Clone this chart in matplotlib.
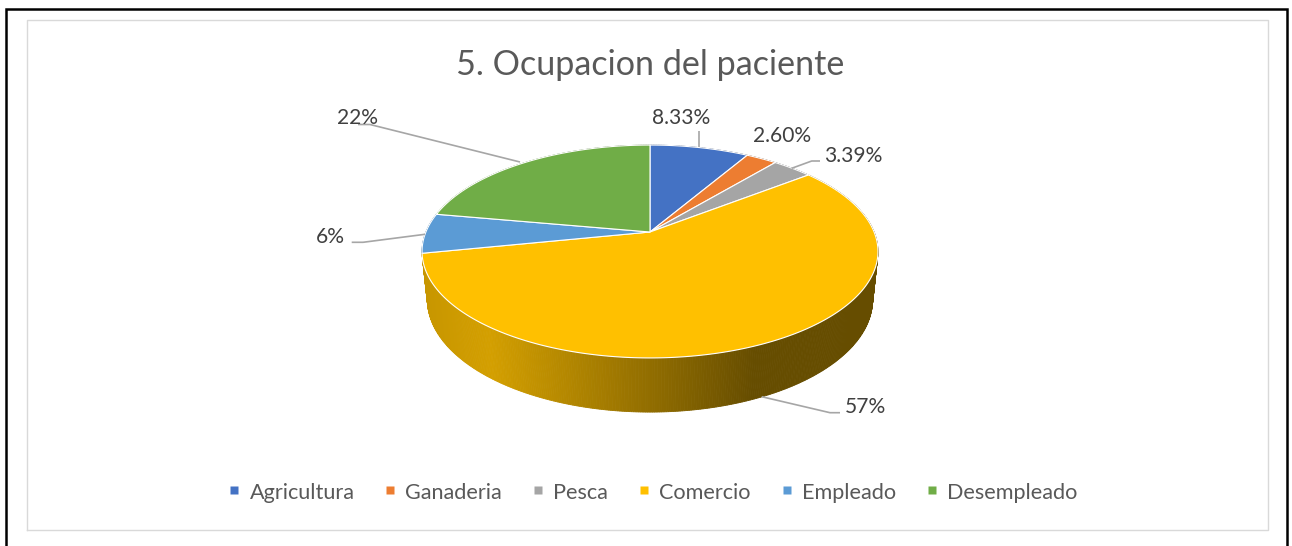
import numpy as np
import matplotlib
matplotlib.use("Agg")
import matplotlib.pyplot as plt
from matplotlib.patches import Polygon
from matplotlib.lines import Line2D
from matplotlib.colors import to_rgb

# ---------------- data ----------------
categories = ["Agricultura", "Ganaderia", "Pesca", "Comercio", "Empleado", "Desempleado"]
values = [8.33, 2.60, 3.39, 57, 6, 22]
value_labels = ["8.33%", "2.60%", "3.39%", "57%", "6%", "22%"]
colors = ["#4472C4", "#ED7D31", "#A5A5A5", "#FFC000", "#5B9BD5", "#70AD47"]
title = "5. Ocupacion del paciente"

# ---------------- layout (pixels) ----------------
W, H = 1292, 546
FONT = "Lato"
TEXT_COLOR = "#595959"
LABEL_COLOR = "#404040"
# label text anchor (x, baseline y, ha)
label_anchor = [(652, 124, "left"), (753, 141.7, "left"), (824, 161.7, "left"),
                (845, 412.7, "left"), (345, 242.7, "right"), (378, 124.3, "right")]
# leader lines (None when Excel draws none)
leaders = [[(699, 131), (699, 147)],
           None,
           [(820, 161), (811.7, 161), (791.7, 168.3)],
           [(840, 412.7), (830, 412.7), (761.7, 396.7)],
           [(351.7, 242.3), (363, 242.3), (425, 234.3)],
           [(358, 124.5), (370, 124.5), (520, 162)]]

fig = plt.figure(figsize=(W / 100, H / 100), dpi=100)
ax = fig.add_axes([0, 0, 1, 1])
ax.set_xlim(0, W)
ax.set_ylim(H, 0)
ax.axis("off")
renderer = fig.canvas.get_renderer()


def fit_size(texts, target, base=20.0):
    tot = 0.0
    for t in texts:
        tt = ax.text(0, 0, t, fontsize=base, family=FONT)
        tot += tt.get_window_extent(renderer).width
        tt.remove()
    return base * target / tot


# ---------------- borders ----------------
ax.plot([5.5, 5.5, 1287.3, 1287.3], [560, 8.5, 8.5, 560], color="black", lw=1.8,
        solid_joinstyle="miter", zorder=1)
ax.plot([26.5, 26.5, 1267.5, 1267.5, 26.5], [530, 19.5, 19.5, 530, 530],
        color="#D9D9D9", lw=1.0, zorder=1)

# ---------------- 3D pie projection ----------------
CX, CY = 650, 232
S = 224.1
SIN = 0.459
COS = np.sqrt(1 - SIN ** 2)
D = 4.85
HGT = 0.243


def proj(theta, r=1.0, y=0.0):
    X = r * np.sin(theta)
    Z = r * np.cos(theta)
    den = 1 + (Z * COS - y * SIN) / D
    u = S * X / den
    v = S * (y * COS + Z * SIN) / den
    return CX + u, CY - v


vals = np.array(values, dtype=float)
frac = vals / vals.sum()
edges = np.concatenate([[0], np.cumsum(frac)]) * 2 * np.pi


def slice_of(theta):
    return int(np.clip(np.searchsorted(edges, theta, side="right") - 1, 0, len(vals) - 1))


# side wall
step = np.deg2rad(0.5)
thetas = np.arange(0, 2 * np.pi + 1e-9, step)
quads = []
for a, b in zip(thetas[:-1], thetas[1:]):
    m = 0.5 * (a + b)
    quads.append((np.cos(m), a, b, m))
quads.sort(key=lambda q: -q[0])
for _, a, b, m in quads:
    idx = slice_of(m)
    ta = proj(a)
    tb = proj(b)
    bb = proj(b, y=-HGT)
    ba = proj(a, y=-HGT)
    xm = proj(m)[0]
    f = np.interp(xm, [420, 490, 755, 900], [0.78, 0.83, 0.40, 0.40])
    c = tuple(np.array(to_rgb(colors[idx])) * f)
    ax.add_patch(Polygon([ta, tb, bb, ba], closed=True, facecolor=c, edgecolor=c,
                         lw=0.6, zorder=2))

# top faces
for i in range(len(vals)):
    th = np.linspace(edges[i], edges[i + 1], max(3, int(np.degrees(edges[i + 1] - edges[i]) * 2)))
    xs, ys = proj(th)
    pts = [(CX, CY)] + list(zip(xs, ys))
    ax.add_patch(Polygon(pts, closed=True, facecolor=colors[i], edgecolor="white",
                         lw=0.8, joinstyle="round", zorder=3))

# ---------------- data labels ----------------
lab_size = fit_size(value_labels[:3], 175)
for i, txt in enumerate(value_labels):
    x, y, ha = label_anchor[i]
    ax.text(x, y, txt, fontsize=lab_size, family=FONT, color=LABEL_COLOR,
            ha=ha, va="baseline", zorder=5)
    if leaders[i] is not None:
        lx, ly = zip(*leaders[i])
        ax.plot(lx, ly, color="#A6A6A6", lw=1.2, zorder=4, solid_capstyle="butt")

# ---------------- title ----------------
title_size = fit_size([title], 390)
ax.text(650, 75, title, fontsize=title_size, family=FONT, color=TEXT_COLOR,
        ha="center", va="baseline", zorder=5)

# ---------------- legend ----------------
leg_size = fit_size(categories, 573)
Fpx = leg_size * 100 / 72
handles = [Line2D([], [], marker="s", linestyle="none", markersize=5.4,
                  markerfacecolor=c, markeredgecolor="none") for c in colors]
fig.legend(handles, categories, loc="center", bbox_to_anchor=(654 / W, 1 - 492 / H),
           ncol=6, frameon=False, prop={"family": FONT, "size": leg_size},
           labelcolor=TEXT_COLOR, handlelength=7 / Fpx, handleheight=1.1,
           handletextpad=11.5 / Fpx, columnspacing=32.5 / Fpx, borderpad=0,
           borderaxespad=0)

fig.savefig("out.png", dpi=100)
